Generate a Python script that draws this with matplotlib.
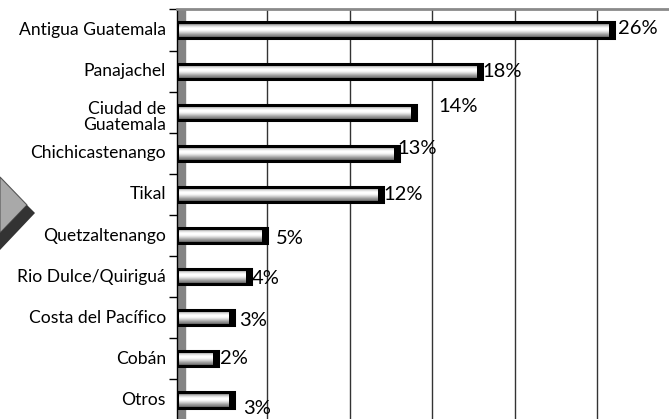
import numpy as np
import matplotlib
matplotlib.use('Agg')
import matplotlib.pyplot as plt
from matplotlib.patches import Polygon

plt.rcParams['font.family'] = ['Lato', 'DejaVu Sans']

# Datos
categorias = ['Antigua Guatemala', 'Panajachel', 'Ciudad de\nGuatemala', 'Chichicastenango',
              'Tikal', 'Quetzaltenango', 'Rio Dulce/Quiriguá', 'Costa del Pacífico',
              'Cobán', 'Otros']
valores = [26, 18, 14, 13, 12, 5, 4, 3, 2, 3]
etiquetas = ['26%', '18%', '14%', '13%', '12%', '5%', '4%', '3%', '2%', '3%']

# desplazamiento de las etiquetas (x en %, y en fracción de categoría hacia abajo)
lbl_dx = [0.24, 0.0, 1.33, -0.12, 0.02, 0.52, 0.06, 0.27, 0.12, 0.52]
lbl_dy = [-0.04, 0.0, -0.15, -0.12, 0.0, 0.07, 0.04, 0.07, 0.0, 0.22]
# desplazamiento vertical de las etiquetas de categoría (fracción hacia abajo)
cat_dy = [0, 0, 0.12, 0, 0, 0, 0, 0, 0, 0]

W, H = 669, 419
fig = plt.figure(figsize=(W / 100, H / 100), dpi=100)
ax = fig.add_axes([177 / W, (H - 420.5) / H, 1 - 177 / W, 411 / H])

pared = 0.48   # profundidad de la pared gris
alto = 0.37
n = len(categorias)
ys = np.arange(n)[::-1]

# degradado vertical de las barras
grad = np.array([0.35, 0.55, 0.75, 0.9, 1.0, 1.0, 0.95, 0.85, 0.72, 0.6, 0.5, 0.35])[:, None]

for y, v in zip(ys, valores):
    ax.imshow(grad, extent=(-pared, v, y - alto / 2, y + alto / 2), aspect='auto',
              cmap='gray', vmin=0, vmax=1, interpolation='bilinear', zorder=3)
    ax.barh(y, v + pared, left=-pared, height=alto, facecolor='none',
            edgecolor='black', linewidth=2.2, zorder=4)
    ax.barh(y, 0.32, left=v - 0.32, height=alto, color='black', zorder=4)

for y, v, t, dx, dy in zip(ys, valores, etiquetas, lbl_dx, lbl_dy):
    ax.text(v + dx, y - dy, t, ha='left', va='center', fontsize=14.5, zorder=5)

# etiquetas de categoría
trans = ax.get_yaxis_transform()
for y, c, dy in zip(ys, categorias, cat_dy):
    ax.annotate(c, xy=(0, y - dy), xycoords=trans, xytext=(-8, 0),
                textcoords='offset points', ha='right', va='center',
                fontsize=12.6, linespacing=1.0, annotation_clip=False)

# pared gris
ax.axvspan(-pared, 0, color='#848484', zorder=1)

ax.set_xlim(-pared, (W - 185) / 16.5)
ax.set_ylim(-0.5, n - 0.5)

for g in [5, 10, 15, 20, 25]:
    ax.axvline(g, color='#333333', linewidth=1, zorder=2)

ax.set_yticks(np.arange(n + 1) - 0.5)
ax.set_yticklabels([])
ax.tick_params(axis='y', length=5.5, width=1, color='black')
ax.set_xticks([])

for s in ['right', 'bottom']:
    ax.spines[s].set_visible(False)
ax.spines['left'].set_color('black')
ax.spines['left'].set_linewidth(1)
ax.spines['top'].set_color('#8a8a8a')
ax.spines['top'].set_linewidth(2)

# rombo gris a la izquierda
def px(pts):
    return [(x / W, 1 - y / H) for x, y in pts]

fig.patches.append(Polygon(px([(0, 177), (27, 205), (0, 233)]), closed=True,
                           facecolor='#a9a9a9', edgecolor='#555555', linewidth=0.8,
                           transform=fig.transFigure))
fig.patches.append(Polygon(px([(27, 205), (35, 213), (0, 250), (0, 233)]), closed=True,
                           facecolor='#333333', edgecolor='none',
                           transform=fig.transFigure))

fig.savefig('out.png', dpi=100)
